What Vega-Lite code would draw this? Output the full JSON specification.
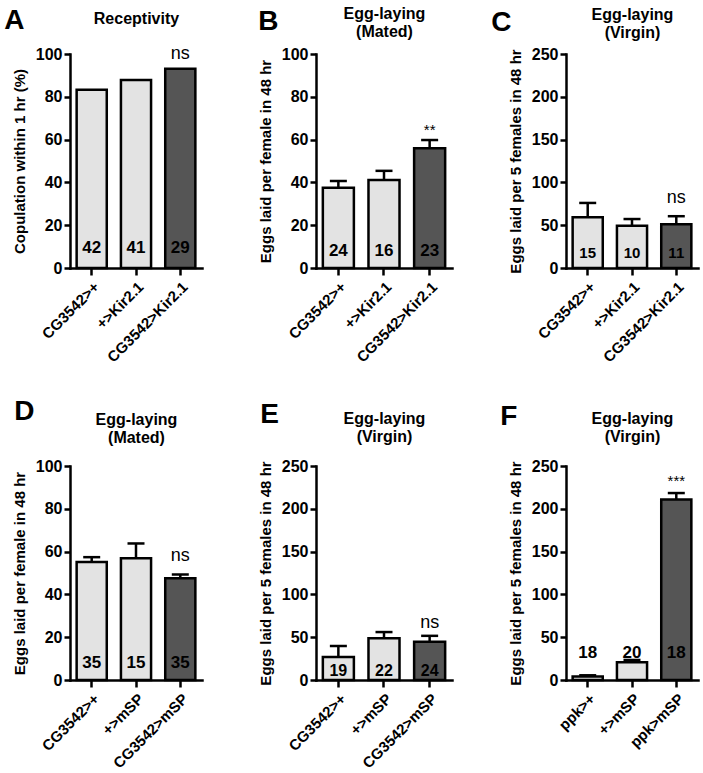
{
"$schema":"https://vega.github.io/schema/vega-lite/v6.json",
"padding":{"left":4,"top":5,"right":5,"bottom":5},
"background":"white",
"datasets":{
"A":[{"g":"CG3542>+","mean":83.3,"n":"42","sig":""},{"g":"+>Kir2.1","mean":87.8,"n":"41","sig":""},{"g":"CG3542>Kir2.1","mean":93.1,"n":"29","sig":"ns"}],
"B":[{"g":"CG3542>+","mean":37.5,"hi":40.7,"n":"24","sig":""},{"g":"+>Kir2.1","mean":41.1,"hi":45.4,"n":"16","sig":""},{"g":"CG3542>Kir2.1","mean":56,"hi":59.8,"n":"23","sig":"**"}],
"C":[{"g":"CG3542>+","mean":59.3,"hi":76,"n":"15","sig":""},{"g":"+>Kir2.1","mean":49.3,"hi":57.2,"n":"10","sig":""},{"g":"CG3542>Kir2.1","mean":51.2,"hi":60.5,"n":"11","sig":"ns"}],
"D":[{"g":"CG3542>+","mean":55.1,"hi":57.4,"n":"35","sig":""},{"g":"+>mSP","mean":56.9,"hi":63.8,"n":"15","sig":""},{"g":"CG3542>mSP","mean":47.5,"hi":49.3,"n":"35","sig":"ns"}],
"E":[{"g":"CG3542>+","mean":26.8,"hi":39.6,"n":"19","sig":""},{"g":"+>mSP","mean":48.8,"hi":56,"n":"22","sig":""},{"g":"CG3542>mSP","mean":44.7,"hi":51.6,"n":"24","sig":"ns"}],
"F":[{"g":"ppk>+","mean":4,"hi":5.5,"n":"18","sig":""},{"g":"+>mSP","mean":20.7,"hi":23.4,"n":"20","sig":""},{"g":"ppk>mSP","mean":211,"hi":218.4,"n":"18","sig":"***"}]
},
"columns":3,
"bounds":"flush",
"spacing":{"row":198,"column":114},
"concat":[
{"title":{"text":"A","dx":-8,"offset":-25},"width":132,"height":214,"data":{"name":"A"},
"layer":[
{"mark":{"type":"bar","stroke":"black","strokeWidth":2.5},"encoding":{"x":{"field":"g","type":"nominal","sort":null,"scale":{"paddingInner":0.32,"paddingOuter":0.15},"axis":{"title":null}},"y":{"field":"mean","type":"quantitative","scale":{"domain":[0,100],"nice":false},"axis":{"values":[0,20,40,60,80,100],"title":"Copulation within 1 hr (%)"}},"color":{"field":"g","type":"nominal","scale":{"domain":["CG3542>+","+>Kir2.1","CG3542>Kir2.1","+>mSP","CG3542>mSP","ppk>+","ppk>mSP"],"range":["#e3e3e3","#e3e3e3","#555555","#e3e3e3","#555555","#e3e3e3","#555555"]},"legend":null}}},
{"mark":{"type":"text","fontSize":17,"fontWeight":"bold","color":"black","baseline":"middle"},"encoding":{"x":{"field":"g","type":"nominal","sort":null,"axis":null},"y":{"datum":9.3},"text":{"field":"n"}}},
{"mark":{"type":"text","fontSize":18,"color":"black","baseline":"alphabetic"},"encoding":{"x":{"field":"g","type":"nominal","sort":null,"axis":{"orient":"top","labels":false,"ticks":false,"domain":false,"title":"Receptivity","titlePadding":28,"titleFontSize":16}},"y":{"datum":97.5},"text":{"field":"sig"}}}
],"resolve":{"axis":{"x":"independent"}}},
{"title":{"text":"B","dx":0,"dy":5,"offset":-26},"width":136,"height":214,"data":{"name":"B"},
"layer":[
{"mark":{"type":"bar","stroke":"black","strokeWidth":2.5},"encoding":{"x":{"field":"g","type":"nominal","sort":null,"scale":{"paddingInner":0.32,"paddingOuter":0.15},"axis":{"title":null}},"y":{"field":"mean","type":"quantitative","scale":{"domain":[0,100],"nice":false},"axis":{"values":[0,20,40,60,80,100],"title":"Eggs laid per female in 48 hr"}},"color":{"field":"g","type":"nominal","legend":null}}},
{"mark":{"type":"rule","strokeWidth":2.5,"color":"black"},"encoding":{"x":{"field":"g","type":"nominal","sort":null,"axis":null},"y":{"field":"mean","type":"quantitative"},"y2":{"field":"hi"}}},
{"mark":{"type":"tick","thickness":2.5,"size":17,"color":"black","opacity":1},"encoding":{"x":{"field":"g","type":"nominal","sort":null,"axis":null},"y":{"field":"hi","type":"quantitative"}}},
{"mark":{"type":"text","fontSize":17,"fontWeight":"bold","color":"black","baseline":"middle"},"encoding":{"x":{"field":"g","type":"nominal","sort":null,"axis":null},"y":{"datum":8},"text":{"field":"n"}}},
{"mark":{"type":"text","fontSize":15,"color":"black","baseline":"alphabetic"},"encoding":{"x":{"field":"g","type":"nominal","sort":null,"axis":{"orient":"top","labels":false,"ticks":false,"domain":false,"title":["Egg-laying","(Mated)"],"titlePadding":15,"titleFontSize":16}},"y":{"datum":62},"text":{"field":"sig"}}}
],"resolve":{"axis":{"x":"independent"}}},
{"title":{"text":"C","dx":-17,"dy":5,"offset":-26},"width":132,"height":214,"data":{"name":"C"},
"layer":[
{"mark":{"type":"bar","stroke":"black","strokeWidth":2.5},"encoding":{"x":{"field":"g","type":"nominal","sort":null,"scale":{"paddingInner":0.32,"paddingOuter":0.15},"axis":{"title":null}},"y":{"field":"mean","type":"quantitative","scale":{"domain":[0,250],"nice":false},"axis":{"values":[0,50,100,150,200,250],"title":"Eggs laid per 5 females in 48 hr"}},"color":{"field":"g","type":"nominal","legend":null}}},
{"mark":{"type":"rule","strokeWidth":2.5,"color":"black"},"encoding":{"x":{"field":"g","type":"nominal","sort":null,"axis":null},"y":{"field":"mean","type":"quantitative"},"y2":{"field":"hi"}}},
{"mark":{"type":"tick","thickness":2.5,"size":17,"color":"black","opacity":1},"encoding":{"x":{"field":"g","type":"nominal","sort":null,"axis":null},"y":{"field":"hi","type":"quantitative"}}},
{"mark":{"type":"text","fontSize":15,"fontWeight":"bold","color":"black","baseline":"middle"},"encoding":{"x":{"field":"g","type":"nominal","sort":null,"axis":null},"y":{"datum":18},"text":{"field":"n"}}},
{"mark":{"type":"text","fontSize":18,"color":"black","baseline":"alphabetic"},"encoding":{"x":{"field":"g","type":"nominal","sort":null,"axis":{"orient":"top","labels":false,"ticks":false,"domain":false,"title":["Egg-laying","(Virgin)"],"titlePadding":14,"titleFontSize":16}},"y":{"datum":76},"text":{"field":"sig"}}}
],"resolve":{"axis":{"x":"independent"}}},
{"title":{"text":"D","dx":2,"offset":-15},"width":132,"height":214,"data":{"name":"D"},
"layer":[
{"mark":{"type":"bar","stroke":"black","strokeWidth":2.5},"encoding":{"x":{"field":"g","type":"nominal","sort":null,"scale":{"paddingInner":0.32,"paddingOuter":0.15},"axis":{"title":null}},"y":{"field":"mean","type":"quantitative","scale":{"domain":[0,100],"nice":false},"axis":{"values":[0,20,40,60,80,100],"title":"Eggs laid per female in 48 hr"}},"color":{"field":"g","type":"nominal","legend":null}}},
{"mark":{"type":"rule","strokeWidth":2.5,"color":"black"},"encoding":{"x":{"field":"g","type":"nominal","sort":null,"axis":null},"y":{"field":"mean","type":"quantitative"},"y2":{"field":"hi"}}},
{"mark":{"type":"tick","thickness":2.5,"size":17,"color":"black","opacity":1},"encoding":{"x":{"field":"g","type":"nominal","sort":null,"axis":null},"y":{"field":"hi","type":"quantitative"}}},
{"mark":{"type":"text","fontSize":17,"fontWeight":"bold","color":"black","baseline":"middle"},"encoding":{"x":{"field":"g","type":"nominal","sort":null,"axis":null},"y":{"datum":8},"text":{"field":"n"}}},
{"mark":{"type":"text","fontSize":18,"color":"black","baseline":"alphabetic"},"encoding":{"x":{"field":"g","type":"nominal","sort":null,"axis":{"orient":"top","labels":false,"ticks":false,"domain":false,"title":["Egg-laying","(Mated)"],"titlePadding":21,"titleFontSize":16}},"y":{"datum":55.5},"text":{"field":"sig"}}}
],"resolve":{"axis":{"x":"independent"}}},
{"title":{"text":"E","dx":2,"offset":-19},"width":136,"height":214,"data":{"name":"E"},
"layer":[
{"mark":{"type":"bar","stroke":"black","strokeWidth":2.5},"encoding":{"x":{"field":"g","type":"nominal","sort":null,"scale":{"paddingInner":0.32,"paddingOuter":0.15},"axis":{"title":null}},"y":{"field":"mean","type":"quantitative","scale":{"domain":[0,250],"nice":false},"axis":{"values":[0,50,100,150,200,250],"title":"Eggs laid per 5 females in 48 hr"}},"color":{"field":"g","type":"nominal","legend":null}}},
{"mark":{"type":"rule","strokeWidth":2.5,"color":"black"},"encoding":{"x":{"field":"g","type":"nominal","sort":null,"axis":null},"y":{"field":"mean","type":"quantitative"},"y2":{"field":"hi"}}},
{"mark":{"type":"tick","thickness":2.5,"size":17,"color":"black","opacity":1},"encoding":{"x":{"field":"g","type":"nominal","sort":null,"axis":null},"y":{"field":"hi","type":"quantitative"}}},
{"mark":{"type":"text","fontSize":16,"fontWeight":"bold","color":"black","baseline":"middle"},"encoding":{"x":{"field":"g","type":"nominal","sort":null,"axis":null},"y":{"datum":10},"text":{"field":"n"}}},
{"mark":{"type":"text","fontSize":18,"color":"black","baseline":"alphabetic"},"encoding":{"x":{"field":"g","type":"nominal","sort":null,"axis":{"orient":"top","labels":false,"ticks":false,"domain":false,"title":["Egg-laying","(Virgin)"],"titlePadding":22,"titleFontSize":16}},"y":{"datum":61},"text":{"field":"sig"}}}
],"resolve":{"axis":{"x":"independent"}}},
{"title":{"text":"F","dx":-8,"offset":-21},"width":132,"height":214,"data":{"name":"F"},
"layer":[
{"mark":{"type":"bar","stroke":"black","strokeWidth":2.5},"encoding":{"x":{"field":"g","type":"nominal","sort":null,"scale":{"paddingInner":0.32,"paddingOuter":0.15},"axis":{"title":null}},"y":{"field":"mean","type":"quantitative","scale":{"domain":[0,250],"nice":false},"axis":{"values":[0,50,100,150,200,250],"title":"Eggs laid per 5 females in 48 hr"}},"color":{"field":"g","type":"nominal","legend":null}}},
{"mark":{"type":"rule","strokeWidth":2.5,"color":"black"},"encoding":{"x":{"field":"g","type":"nominal","sort":null,"axis":null},"y":{"field":"mean","type":"quantitative"},"y2":{"field":"hi"}}},
{"mark":{"type":"tick","thickness":2.5,"size":17,"color":"black","opacity":1},"encoding":{"x":{"field":"g","type":"nominal","sort":null,"axis":null},"y":{"field":"hi","type":"quantitative"}}},
{"mark":{"type":"text","fontSize":17,"fontWeight":"bold","color":"black","baseline":"middle"},"encoding":{"x":{"field":"g","type":"nominal","sort":null,"axis":null},"y":{"datum":31},"text":{"field":"n"}}},
{"mark":{"type":"text","fontSize":15,"color":"black","baseline":"alphabetic"},"encoding":{"x":{"field":"g","type":"nominal","sort":null,"axis":{"orient":"top","labels":false,"ticks":false,"domain":false,"title":["Egg-laying","(Virgin)"],"titlePadding":22,"titleFontSize":16}},"y":{"datum":227},"text":{"field":"sig"}}}
],"resolve":{"axis":{"x":"independent"}}}
],
"config":{
"font":"Liberation Sans",
"view":{"stroke":null},
"title":{"anchor":"start","frame":"bounds","fontSize":28,"fontWeight":"bold","color":"black","font":"Liberation Sans"},
"axis":{"grid":false,"domainColor":"black","domainWidth":2.5,"domainCap":"square","tickColor":"black","tickWidth":2.5,"labelColor":"black","labelFont":"Liberation Sans","labelFontWeight":"bold","titleColor":"black","titleFont":"Liberation Sans","titleFontWeight":"bold"},
"axisY":{"tickSize":6,"labelFontSize":16,"titleFontSize":15,"labelPadding":2,"titlePadding":8},
"axisX":{"tickSize":7,"labelFontSize":15,"labelAngle":-45,"labelPadding":4}
}
}
